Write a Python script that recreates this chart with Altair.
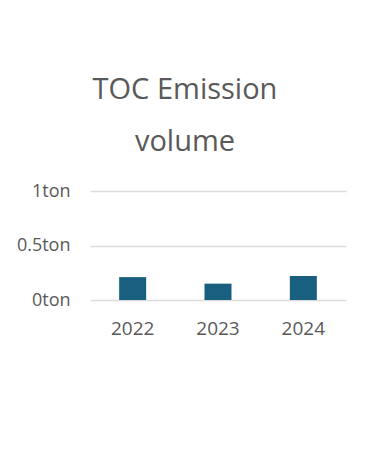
import altair as alt
import pandas as pd

years = ["2022", "2023", "2024"]
values = [0.21, 0.15, 0.22]
y_ticks = [0, 0.5, 1]

df = pd.DataFrame({"year": years, "value": values})

FONT = "Open Sans"
GRAY = "#595959"

chart = (
    alt.Chart(df)
    .mark_bar(color="#185f80", size=27)
    .encode(
        x=alt.X(
            "year:N",
            sort=years,
            title=None,
            scale=alt.Scale(paddingInner=0.5, paddingOuter=0.25),
            axis=alt.Axis(
                labelAngle=0,
                labelFontSize=19,
                labelColor=GRAY,
                labelFont=FONT,
                labelPadding=19,
                ticks=False,
                domain=False,
                grid=False,
            ),
        ),
        y=alt.Y(
            "value:Q",
            title=None,
            scale=alt.Scale(domain=[0, 1], nice=False),
            axis=alt.Axis(
                values=y_ticks,
                labelExpr="datum.value + 'ton'",
                labelFontSize=18,
                labelColor=GRAY,
                labelFont=FONT,
                labelPadding=20,
                ticks=False,
                domain=False,
                gridColor="#dcdcdc",
                gridWidth=1.5,
            ),
        ),
    )
    .properties(
        width=256,
        height=109,
        autosize=alt.AutoSizeParams(type="none"),
        padding={"left": 82, "top": 183, "right": 8, "bottom": 100},
        title=alt.TitleParams(
            text=["TOC Emission", "volume"],
            fontSize=29,
            font=FONT,
            fontWeight="normal",
            color=GRAY,
            lineHeight=52,
            anchor="middle",
            dx=-33,
            offset=25,
        ),
    )
    .configure_view(stroke=None)
)

chart.save("out.html", embed_options={"renderer": "svg", "actions": False})
